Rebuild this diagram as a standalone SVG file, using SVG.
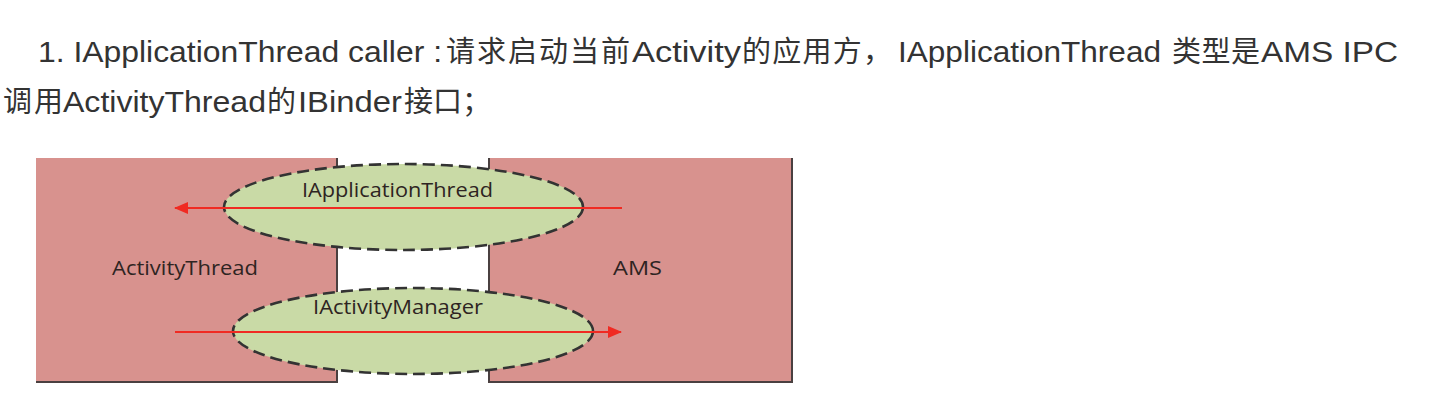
<svg xmlns="http://www.w3.org/2000/svg" width="1434" height="400" viewBox="0 0 1434 400">
<style>
.h{font-family:"Liberation Sans","Noto Sans CJK SC",sans-serif;font-size:30px;fill:#333333}
.c{font-family:"Noto Sans CJK SC","Liberation Sans",sans-serif;font-size:29px;fill:#333333}
.box{fill:#d8928e}
.edge{fill:none;stroke:#4a4040;stroke-width:2}
.pipe{fill:#c9daa6;stroke:#333333;stroke-width:2.6;stroke-dasharray:12 6}
.lbl{font-family:"Open Sans","Noto Sans",sans-serif;font-size:20px;font-weight:500;fill:#2e2422}
.arr{stroke:#f02a22;stroke-width:2.2;fill:none}
</style>
<defs>
<marker id="ah" viewBox="0 0 14 12" refX="13" refY="6" markerWidth="14" markerHeight="12" markerUnits="userSpaceOnUse" orient="auto">
<path d="M0,0 L14,6 L0,12 Z" fill="#f02a22"/>
</marker>
</defs>
<rect width="1434" height="400" fill="#ffffff"/>
<g id="heading">
<text class="h" x="38" y="62" textLength="404" lengthAdjust="spacingAndGlyphs">1. IApplicationThread caller :</text>
<text class="c" x="446" y="62" textLength="184" lengthAdjust="spacing">请求启动当前</text>
<text class="h" x="632" y="62" textLength="109" lengthAdjust="spacingAndGlyphs">Activity</text>
<text class="c" x="742" y="62" textLength="150" lengthAdjust="spacing">的应用方，</text>
<text class="h" x="898" y="62" textLength="263" lengthAdjust="spacingAndGlyphs">IApplicationThread</text>
<text class="c" x="1172" y="62" textLength="88" lengthAdjust="spacing">类型是</text>
<text class="h" x="1261" y="62" textLength="137" lengthAdjust="spacingAndGlyphs">AMS IPC</text>
<text class="c" x="3" y="112" textLength="60" lengthAdjust="spacing">调用</text>
<text class="h" x="63" y="112" textLength="203" lengthAdjust="spacingAndGlyphs">ActivityThread</text>
<text class="c" x="267" y="112">的</text>
<text class="h" x="298" y="112" textLength="104" lengthAdjust="spacingAndGlyphs">IBinder</text>
<text class="c" x="404" y="112">接口；</text>
</g>
<g id="activitythread">
<rect class="box" x="36" y="158" width="301" height="224"/>
<path class="edge" d="M337,158 V382 H36"/>
<text class="lbl" x="112" y="275" textLength="146" lengthAdjust="spacingAndGlyphs">ActivityThread</text>
</g>
<g id="ams">
<rect class="box" x="489" y="158" width="303" height="224"/>
<path class="edge" d="M489,158 V382 H792 V158"/>
<text class="lbl" x="613" y="275" textLength="49" lengthAdjust="spacingAndGlyphs">AMS</text>
</g>
<g id="iapplicationthread">
<ellipse class="pipe" cx="403.5" cy="207" rx="179.5" ry="43"/>
<text class="lbl" x="302" y="197" textLength="191" lengthAdjust="spacingAndGlyphs">IApplicationThread</text>
</g>
<g id="iactivitymanager">
<ellipse class="pipe" cx="413" cy="331" rx="180" ry="43"/>
<text class="lbl" x="313" y="314" textLength="170" lengthAdjust="spacingAndGlyphs">IActivityManager</text>
</g>
<g id="connectors">
<line class="arr" x1="622" y1="208" x2="175" y2="208" marker-end="url(#ah)"/>
<line class="arr" x1="175" y1="332" x2="621" y2="332" marker-end="url(#ah)"/>
</g>
</svg>
